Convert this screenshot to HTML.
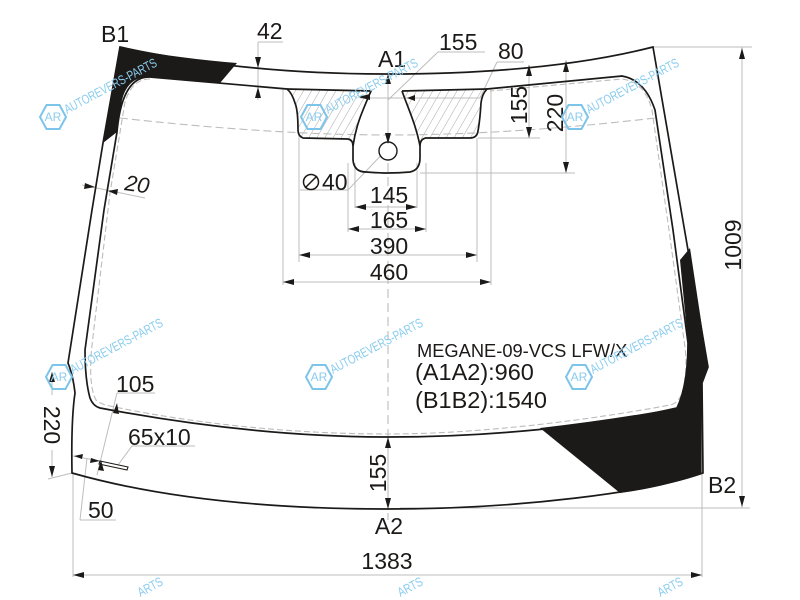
<!DOCTYPE html>
<html>
<head>
<meta charset="utf-8">
<style>
html,body{margin:0;padding:0;background:#fff;width:800px;height:600px;overflow:hidden}
svg{display:block;filter:blur(.35px)}
text{font-family:"Liberation Sans",sans-serif;fill:#1c1a18}
.d{font-size:23px}
.w{font-size:13px;fill:#8accee}
.l{fill:none;stroke:#bdbdbd;stroke-width:1}
.k{fill:none;stroke:#1c1a18;stroke-width:1.7}
.a{fill:#1c1a18}
.h{fill:none;stroke:#7cc4ea;stroke-width:2}
.r{font-size:12px;fill:#8accee}
</style>
</head>
<body>
<svg width="800" height="600" viewBox="0 0 800 600" xmlns="http://www.w3.org/2000/svg">
<defs>
<pattern id="hatch" width="7" height="7" patternUnits="userSpaceOnUse" patternTransform="rotate(30)">
<line x1="0" y1="0" x2="0" y2="7" stroke="#a8a8a8" stroke-width="1"/>
</pattern>
</defs>
<rect width="800" height="600" fill="#fff"/>

<!-- hatching -->
<path d="M287,89 L371,91 C362,112 356,125 353,140 L303,138 Q298,136 298,130 Q298,110 295,103 Q292,93 287,89 Z" fill="url(#hatch)"/>
<path d="M402,91 L487,89 Q482,94 481,103 Q480,120 478,131 Q477,138 470,138 L420,139 C416,125 408,108 402,91 Z" fill="url(#hatch)"/>

<!-- black frit -->
<path class="a" d="M120,47 C160,55 200,60 237,63 L220,83 L150,77 Q128,76 122,100 L117,132 L103,143 Z"/>
<path class="a" d="M690,248 L680,260 L688,343 Q688,385 677,408 Q610,420 540,428 L620,493 C650,489 680,482 703,473 L702,383 L708,367 Z"/>

<!-- gray extension lines -->
<path class="l" d="M299,133V262 M348,163V232 M355,163V208 M417,163V208 M426,163V232 M477,138V262 M283,89V285 M491,89V285"/>
<path class="l" d="M355,207H417 M348,229H426 M299,255H477 M283,282H491"/>
<path class="l" d="M420,173H575 M566,60V173 M478,138H540 M529,65V138 M360,98H480"/>
<path class="l" d="M653,47H752 M742,47V508 M400,508H750 M702,383V577 M73,473V577 M73,575H702"/>
<path class="l" d="M258,42H283 M258,42V100"/>
<path class="l" d="M438,52H485 M438,52L388,100 M497,62H524 M497,62L480,98"/>
<path class="l" d="M388,80V140 M388,437V509"/>
<path class="l" d="M388,148L348,190H300"/>
<path class="l" d="M117,393H155 M117,393L97,475 M132,446H195 M132,446L118,465 M80,520H116 M80,520L87,458 M73,456L100,461"/>
<path class="l" d="M82,185L145,198"/>
<path class="l" d="M52,372V395 M52,450V477 M48,479L72,473"/>

<!-- dashed -->
<path d="M120,118 C200,127 300,135 388,135 C476,135 570,128 655,118" fill="none" stroke="#bcbcbc" stroke-width="1.1" stroke-dasharray="8 4"/>
<path d="M388,135V520" fill="none" stroke="#bcbcbc" stroke-width="1.1" stroke-dasharray="9 5"/>
<path d="M150,79 Q132,79 125,102 L110,193 L92,345 Q88,385 96,400 Q100,404 110,406 C190,423 290,434 388,434 C480,434 590,420 670,405 Q681,403 684,385 Q688,365 684,340 L669,230 L652,110 Q645,82 622,79 L490,91" fill="none" stroke="#bcbcbc" stroke-width="1.1" stroke-dasharray="6 3"/>

<!-- glass outline -->
<path class="k" d="M120,47 C210,67 300,74 388,74 C476,74 570,68 653,47 L688,250 L708,367 L702,383 L703,473 C650,492 520,509 388,509 C270,509 160,498 72,473 Q71,420 75,393 Q73,375 68,363 L92,210 L103,143 Z"/>
<!-- inner frit line -->
<path class="k" d="M150,77 L287,89 Q292,93 295,103 Q298,110 298,130 Q298,136 303,138 L348,139 Q353,140 353,146 L353,160 Q354,172 366,172 Q388,174 410,172 Q420,170 420,158 L420,146 Q420,139 426,138 L470,138 Q477,138 478,131 Q480,120 481,103 Q482,94 487,89 L622,76 Q645,80 655,110 L673,230 L688,343 Q688,385 677,408 C590,428 480,437 388,437 C290,437 190,425 100,408 Q93,406 90,398 Q85,380 85,350 L104,210 L117,132 Q122,76 150,77 Z"/>
<path class="k" d="M287,89 L371,91 C362,112 356,125 353,146 M402,91 L487,89 M402,91 C408,108 416,125 420,146" />
<circle cx="388" cy="151" r="9" fill="#fff" stroke="#1c1a18" stroke-width="1.4"/>
<path d="M100,461 L128,467 L127,470 L99,464 Z" fill="#fff" stroke="#1c1a18" stroke-width="1.1"/>

<!-- arrowheads -->
<path class="a" d="M258,68L255,57H261Z M258,87L255,98H261Z"/>
<path class="a" d="M388,74L385,84H391Z M388,144L385,133H391Z"/>
<path class="a" d="M358,97L370,94V100Z M407,98L415,95V101Z"/>
<path class="a" d="M529,65L526,76H532Z M529,138L526,127H532Z M566,61L563,72H569Z M566,173L563,162H569Z"/>
<path class="a" d="M355,207L366,204V210Z M417,207L406,204V210Z M348,229L359,226V232Z M426,229L415,226V232Z"/>
<path class="a" d="M299,255L310,252V258Z M477,255L466,252V258Z M283,282L294,279V285Z M491,282L480,279V285Z"/>
<path class="a" d="M742,48L739,59H745Z M742,507L739,496H745Z M73,575L84,572V578Z M702,575L691,572V578Z"/>
<path class="a" d="M388,437L385,448H391Z M388,509L385,498H391Z"/>
<path class="a" d="M95,187L85,183L84,189Z M108,191L118,189L117,195Z"/>
<path class="a" d="M52,372L49,382H55Z M52,477L49,466H55Z"/>
<path class="a" d="M117,403L113,413L119,414Z M101,460L98,470L104,471Z"/>
<path class="a" d="M74,456L83,454L82,459Z M100,461L91,458L90,463Z"/>

<!-- labels -->
<text class="d" x="101" y="42">B1</text>
<text class="d" x="257" y="39">42</text>
<text class="d" x="378" y="67">A1</text>
<text class="d" x="439" y="50">155</text>
<text class="d" x="498" y="59">80</text>
<circle cx="311" cy="182" r="7.5" fill="none" stroke="#1c1a18" stroke-width="1.5"/>
<path d="M305,188L317,176" stroke="#1c1a18" stroke-width="1.5"/>
<text class="d" x="322" y="190">40</text>
<text class="d" x="389" y="203" text-anchor="middle">145</text>
<text class="d" x="389" y="228" text-anchor="middle">165</text>
<text class="d" x="389" y="254" text-anchor="middle">390</text>
<text class="d" x="389" y="280" text-anchor="middle">460</text>
<text class="d" transform="translate(527,105) rotate(-90)" text-anchor="middle">155</text>
<text class="d" transform="translate(563,113) rotate(-90)" text-anchor="middle">220</text>
<text class="d" transform="translate(741,245) rotate(-90)" text-anchor="middle">1009</text>
<text class="d" transform="translate(386,473) rotate(-90)" text-anchor="middle">155</text>
<text class="d" transform="translate(44,425) rotate(90)" text-anchor="middle">220</text>
<text transform="translate(124,190) rotate(8)" font-style="italic" style="font-size:22px">20</text>
<text style="font-size:18.3px" x="417" y="357">MEGANE-09-VCS LFW/X</text>
<text style="font-size:23.5px" x="415" y="380">(A1A2):960</text>
<text style="font-size:23.5px" x="415" y="408">(B1B2):1540</text>
<text class="d" x="116" y="392">105</text>
<text class="d" x="128" y="445">65x10</text>
<text class="d" x="88" y="518">50</text>
<text class="d" x="708" y="493">B2</text>
<text class="d" x="389" y="534" text-anchor="middle">A2</text>
<text class="d" x="387" y="569" text-anchor="middle">1383</text>

<!-- watermarks -->
<g transform="translate(53,117)"><path class="h" d="M-13,0L-6.5,-12H6.5L13,0L6.5,12H-6.5Z"/><text class="r" x="0" y="4" text-anchor="middle">AR</text><text class="w" x="14" y="-3" transform="rotate(-28 14 -3)" textLength="103" lengthAdjust="spacingAndGlyphs">AUTOREVERS-PARTS</text></g>
<g transform="translate(314,117)"><path class="h" d="M-13,0L-6.5,-12H6.5L13,0L6.5,12H-6.5Z"/><text class="r" x="0" y="4" text-anchor="middle">AR</text><text class="w" x="14" y="-3" transform="rotate(-28 14 -3)" textLength="103" lengthAdjust="spacingAndGlyphs">AUTOREVERS-PARTS</text></g>
<g transform="translate(575,117)"><path class="h" d="M-13,0L-6.5,-12H6.5L13,0L6.5,12H-6.5Z"/><text class="r" x="0" y="4" text-anchor="middle">AR</text><text class="w" x="14" y="-3" transform="rotate(-28 14 -3)" textLength="103" lengthAdjust="spacingAndGlyphs">AUTOREVERS-PARTS</text></g>
<g transform="translate(59,377)"><path class="h" d="M-13,0L-6.5,-12H6.5L13,0L6.5,12H-6.5Z"/><text class="r" x="0" y="4" text-anchor="middle">AR</text><text class="w" x="14" y="-3" transform="rotate(-28 14 -3)" textLength="103" lengthAdjust="spacingAndGlyphs">AUTOREVERS-PARTS</text></g>
<g transform="translate(319,377)"><path class="h" d="M-13,0L-6.5,-12H6.5L13,0L6.5,12H-6.5Z"/><text class="r" x="0" y="4" text-anchor="middle">AR</text><text class="w" x="14" y="-3" transform="rotate(-28 14 -3)" textLength="103" lengthAdjust="spacingAndGlyphs">AUTOREVERS-PARTS</text></g>
<g transform="translate(579,377)"><path class="h" d="M-13,0L-6.5,-12H6.5L13,0L6.5,12H-6.5Z"/><text class="r" x="0" y="4" text-anchor="middle">AR</text><text class="w" x="14" y="-3" transform="rotate(-28 14 -3)" textLength="103" lengthAdjust="spacingAndGlyphs">AUTOREVERS-PARTS</text></g>
<text class="w" transform="translate(140.4,597) rotate(-28)" textLength="26.7" lengthAdjust="spacingAndGlyphs">ARTS</text>
<text class="w" transform="translate(400.4,597) rotate(-28)" textLength="26.7" lengthAdjust="spacingAndGlyphs">ARTS</text>
<text class="w" transform="translate(660.4,597) rotate(-28)" textLength="26.7" lengthAdjust="spacingAndGlyphs">ARTS</text>
</svg>
</body>
</html>
